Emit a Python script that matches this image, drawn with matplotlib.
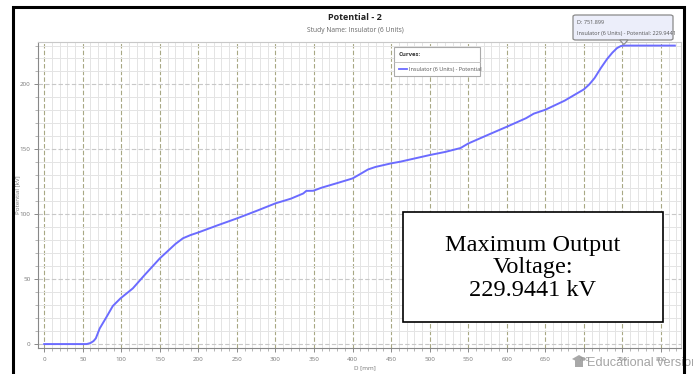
import numpy as np
import matplotlib
matplotlib.use("Agg")
import matplotlib.pyplot as plt
from matplotlib.patches import Rectangle, FancyBboxPatch, Polygon
from matplotlib.ticker import MultipleLocator

# Potential along the insulator string (D in mm, potential in kV)
distance_mm = [0, 20, 40, 55, 60, 64, 67, 72, 81, 89, 99, 115, 130, 150, 160,
               170, 180, 190, 200, 225, 250, 275, 300, 320, 336, 340, 349, 360,
               380, 400, 410, 420, 430, 450, 462, 500, 520, 540, 550, 575, 600,
               625, 635, 650, 675, 700, 707, 714, 722, 730, 737, 743, 748, 752,
               780, 818]
potential_kv = [0, 0, 0, 0, 0.8, 2.3, 4.4, 12, 21, 29.3, 35.2, 42.9, 53, 66,
                71.5, 77, 81.5, 84, 86, 91.5, 96.8, 102.5, 108.4, 112, 116, 118,
                118.1, 120.5, 124, 127.6, 131, 134.5, 136.5, 139.2, 140.5, 145.6,
                148, 151, 154.5, 161, 167.4, 174, 177.5, 180.5, 187.5, 196.2,
                200, 205, 212.6, 219.5, 224.5, 228, 229.6, 229.9441, 229.9441,
                229.9441]
x_ticks = list(range(0, 801, 50))
y_ticks = [0, 50, 100, 150, 200]
curve_label = "Insulator (6 Units) - Potential"
peak_d = 751.899
peak_v = 229.9441

W, H = 693, 374
fig = plt.figure(figsize=(W / 100, H / 100), dpi=100)
plt.rcParams['font.family'] = ['Open Sans', 'DejaVu Sans']


def fx(x):
    return x / W


def fy(y):
    return 1 - y / H


ax = fig.add_axes([fx(38), fy(347.7), fx(681) - fx(38), fy(42) - fy(347.7)])
ax.set_xlim(-8, 826)
ax.set_ylim(-2.8, 232.7)

# grid: light minor lines every 10, dashed major lines every 50
ax.xaxis.set_major_locator(MultipleLocator(50))
ax.xaxis.set_minor_locator(MultipleLocator(10))
ax.yaxis.set_major_locator(MultipleLocator(50))
ax.yaxis.set_minor_locator(MultipleLocator(10))
ax.grid(which='minor', color='#e4e4e4', linewidth=0.7)
ax.grid(which='major', axis='x', color='#a8a884', linewidth=0.8,
        linestyle=(0, (4, 2)))
ax.grid(which='major', axis='y', color='#c8c8c8', linewidth=0.8,
        linestyle=(0, (4, 2)))
ax.set_axisbelow(True)

ax.plot(distance_mm, potential_kv, color='#6b6bff', linewidth=1.4,
        label=curve_label, zorder=3, solid_joinstyle='round')

ax.set_xticks(x_ticks)
ax.set_yticks(y_ticks)
ax.tick_params(which='major', length=3, width=0.6, color='#777777',
               labelsize=4.5, labelcolor='#777777')
ax.tick_params(axis='y', which='major', pad=2.5)
ax.tick_params(axis='x', which='major', pad=4)
ax.tick_params(which='minor', length=2, width=0.5, color='#999999')
for side in ['left', 'bottom']:
    ax.spines[side].set_color('#888888')
    ax.spines[side].set_linewidth(0.8)
for side in ['top', 'right']:
    ax.spines[side].set_color('#c8c8c8')
    ax.spines[side].set_linewidth(0.8)

ax.set_xlabel("D [mm]", fontsize=4.5, color='#777777')
ax.xaxis.set_label_coords((365 - 38) / (681 - 38), -0.057)
ax.set_ylabel("Potential [kV]", fontsize=4.5, color='#777777')
ax.yaxis.set_label_coords(-0.028, 0.5)

# legend panel
leg_l, leg_t, leg_r, leg_b = 394, 46.7, 480, 76
fig.add_artist(Rectangle((fx(leg_l), fy(leg_b)), fx(leg_r) - fx(leg_l),
                         fy(leg_t) - fy(leg_b), transform=fig.transFigure,
                         facecolor='white', edgecolor='#aaaaaa', linewidth=0.8,
                         zorder=5))
fig.add_artist(plt.Line2D([fx(leg_l), fx(leg_r)], [fy(61.5), fy(61.5)],
                          transform=fig.transFigure, color='#bbbbbb',
                          linewidth=0.6, zorder=6))
fig.text(fx(399), fy(54), "Curves:", fontsize=4.3, fontweight='bold',
         color='#333333', va='center', zorder=6)
fig.add_artist(plt.Line2D([fx(399), fx(407)], [fy(69), fy(69)],
                          transform=fig.transFigure, color='#6b6bff',
                          linewidth=1.3, zorder=6))
fig.text(fx(409), fy(69), curve_label, fontsize=4.0, color='#555555',
         va='center', zorder=6)

# hover tooltip at the maximum
tip_px = ax.transData.transform((peak_d, peak_v))[0]
fig.add_artist(FancyBboxPatch((fx(573), fy(40)), fx(673) - fx(573),
                              fy(15) - fy(40),
                              boxstyle="round,pad=0,rounding_size=0.004",
                              transform=fig.transFigure, facecolor='#eceefa',
                              edgecolor='#8a8a8a', linewidth=0.9, zorder=7))
fig.add_artist(Polygon([[tip_px / W - 0.006, fy(40)], [tip_px / W + 0.006, fy(40)],
                        [tip_px / W, fy(44.5)]], closed=True,
                       transform=fig.transFigure, facecolor='#eceefa',
                       edgecolor='#8a8a8a', linewidth=0.8, zorder=7))
fig.text(fx(577), fy(22), f"D: {peak_d}", fontsize=4.0, color='#555555',
         va='center', zorder=8)
fig.text(fx(577), fy(33), f"{curve_label}: {peak_v}", fontsize=4.0,
         color='#555555', va='center', zorder=8)

# titles
fig.text(fx(355), fy(17), "Potential - 2", fontsize=6.5, fontweight='bold',
         color='#222222', ha='center', va='center')
fig.text(fx(355), fy(30), "Study Name: Insulator (6 Units)", fontsize=4.8,
         color='#666666', ha='center', va='center')

# maximum voltage callout
fig.add_artist(Rectangle((fx(402.7), fy(322.3)), fx(662.7) - fx(402.7),
                         fy(212.3) - fy(322.3), transform=fig.transFigure,
                         facecolor='white', edgecolor='black', linewidth=1.2,
                         zorder=9))
fig.text(fx(532.7), fy(268), f"Maximum Output\nVoltage:\n{peak_v} kV",
         family='Liberation Serif', fontsize=17.5, color='black',
         ha='center', va='center', linespacing=1.1, zorder=10)

# watermark
cap = Polygon([[fx(572), fy(359)], [fx(579), fy(355)], [fx(586), fy(359)],
               [fx(583), fy(360.5)], [fx(583), fy(367)], [fx(575), fy(367)],
               [fx(575), fy(360.5)]], closed=True, transform=fig.transFigure,
              facecolor='#999999', edgecolor='none', alpha=0.85, zorder=11)
fig.add_artist(cap)
fig.text(fx(587), fy(363), "Educational version", family='Liberation Sans',
         fontsize=9.2, color='#959595', alpha=0.85, va='center', zorder=11)

# outer frame
fig.add_artist(Rectangle((fx(13), fy(380)), fx(684) - fx(13), fy(7) - fy(380),
                         transform=fig.transFigure, facecolor='none',
                         edgecolor='black', linewidth=2.2, zorder=12))

fig.savefig("out.png", dpi=100)
